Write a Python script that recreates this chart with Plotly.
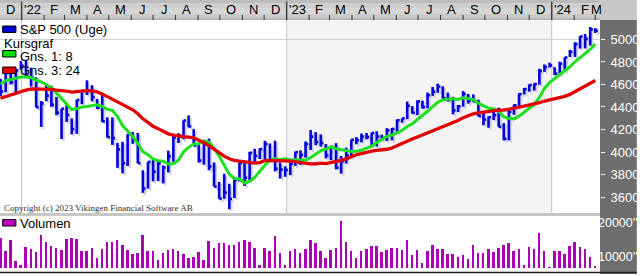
import plotly.graph_objects as go
import pandas as pd

# ---------------- data ----------------
week_end = pd.date_range("2021-12-03", periods=118, freq="W-FRI")

high = [4652, 4713, 4731, 4740, 4808, 4819, 4749, 4664, 4453, 4595,
        4589, 4490, 4385, 4416, 4299, 4465, 4546, 4637, 4593, 4471,
        4513, 4308, 4307, 4081, 4090, 4158, 4177, 4169, 3838, 3913,
        3946, 3918, 3880, 4012, 4140, 4167, 4281, 4325, 4203, 4062,
        4077, 4119, 3907, 3733, 3806, 3718, 3762, 3906, 3911, 4001,
        4028, 4034, 4100, 4076, 4101, 3906, 3873, 3906, 4003, 4015,
        4094, 4195, 4176, 4156, 4070, 4048, 4079, 3964, 4039, 4110,
        4133, 4164, 4169, 4170, 4184, 4154, 4212, 4213, 4290, 4299,
        4448, 4408, 4458, 4456, 4528, 4578, 4607, 4584, 4528, 4490,
        4418, 4541, 4515, 4511, 4464, 4358, 4317, 4385, 4393, 4256,
        4366, 4421, 4521, 4568, 4600, 4609, 4739, 4778, 4793, 4754,
        4802, 4842, 4907, 4975, 5030, 5048, 5111, 5100]
low = [4495, 4531, 4600, 4531, 4733, 4663, 4582, 4395, 4223, 4451,
       4401, 4327, 4115, 4267, 4157, 4161, 4424, 4506, 4450, 4381,
       4268, 4128, 4063, 3859, 3811, 3876, 4073, 3900, 3637, 3675,
       3739, 3742, 3721, 3818, 3913, 4080, 4113, 4219, 4057, 3906,
       3887, 3838, 3693, 3584, 3584, 3491, 3590, 3739, 3698, 3750,
       3907, 3938, 3938, 3918, 3828, 3764, 3780, 3795, 3877, 3885,
       3950, 4018, 4061, 4048, 3943, 3928, 3847, 3808, 3899, 3949,
       4069, 4086, 4113, 4049, 4049, 4098, 4099, 4104, 4166, 4261,
       4292, 4341, 4329, 4385, 4389, 4499, 4527, 4474, 4448, 4335,
       4356, 4403, 4430, 4447, 4316, 4238, 4216, 4284, 4223, 4104,
       4103, 4331, 4410, 4511, 4537, 4546, 4598, 4712, 4751, 4682,
       4682, 4714, 4844, 4845, 4919, 4920, 4946, 5058]
close = [4538, 4712, 4620, 4725, 4766, 4677, 4662, 4398, 4432, 4500,
         4419, 4349, 4385, 4329, 4204, 4463, 4543, 4546, 4488, 4393,
         4272, 4132, 4123, 4024, 3901, 4158, 4109, 3901, 3675, 3912,
         3825, 3899, 3863, 3962, 4130, 4145, 4280, 4228, 4058, 3924,
         4067, 3873, 3693, 3586, 3640, 3583, 3752, 3901, 3771, 3993,
         3965, 4026, 4072, 3934, 3852, 3845, 3840, 3895, 3999, 3973,
         4071, 4136, 4090, 4079, 3970, 4046, 3862, 3917, 3971, 4109,
         4105, 4138, 4133, 4169, 4136, 4124, 4192, 4205, 4282, 4299,
         4410, 4348, 4450, 4399, 4505, 4536, 4582, 4478, 4464, 4370,
         4406, 4516, 4457, 4450, 4320, 4288, 4309, 4327, 4224, 4117,
         4358, 4415, 4514, 4559, 4595, 4604, 4719, 4754, 4770, 4697,
         4784, 4840, 4891, 4959, 5026, 5005, 5089, 5078]
# closes of the 23 weeks before the first bar (needed for the averages)
history_close = [4281, 4352, 4370, 4327, 4412, 4395, 4437, 4468, 4442, 4509,
                 4535, 4459, 4433, 4455, 4357, 4391, 4471, 4545, 4605, 4697,
                 4683, 4698, 4595]
volume = [15430, 11680, 14930, 8730, 7550, 12960, 12270, 11390, 16400, 14340,
          13160, 12470, 11980, 15120, 15430, 15120, 11680, 11680, 12470, 9520,
          12170, 14240, 14240, 14930, 13450, 11980, 10700, 10990, 16400, 11680,
          11680, 9030, 10990, 11980, 12170, 11680, 10800, 9520, 9810, 11390,
          9030, 14630, 12470, 14140, 13940, 13450, 13450, 14440, 14930, 14240,
          12470, 7550, 12470, 11680, 16110, 11190, 7550, 11680, 12170, 10990,
          12270, 14930, 13940, 11680, 9520, 11980, 12470, 20530, 14340, 11680,
          9520, 11680, 12270, 13160, 13160, 11480, 11980, 12470, 12470, 11980,
          14930, 10500, 11980, 8240, 11680, 13450, 12270, 12270, 10800, 10800,
          10010, 10500, 9220, 13450, 10990, 11190, 12270, 11480, 12470, 13450,
          13940, 11680, 12170, 7550, 12960, 12270, 16990, 11680, 7060, 11680,
          11680, 10800, 13160, 14340, 12860, 12270, 10010, 7260]
price_ticks = [3600, 3800, 4000, 4200, 4400, 4600, 4800, 5000]
volume_ticks = [10000, 20000]
volume_tick_labels = ["10000''", "20000''"]
month_letters = ["J", "F", "M", "A", "M", "J", "J", "A", "S", "O", "N", "D"]

# ---------------- derived ----------------
all_close = history_close + close
def sma(n):
    s = len(history_close)
    return [sum(all_close[i - n + 1:i + 1]) / n for i in range(s, len(all_close))]
ma8 = sma(8)
ma24 = sma(24)

W, H = 640, 276
PLOT_R = 603
def py(y):
    return 1 - y / H
def px(x):
    return x / PLOT_R

FONT = "Liberation Sans Narrow, Arial Narrow, Liberation Sans, Arial, sans-serif"
DAY = pd.Timedelta(days=1)

def hlc_path(dx, dy):
    xs, ys = [], []
    for d, h, l, c in zip(week_end, high, low, close):
        d = d + dx
        xs += [d, d, None, d, d + 3.6 * DAY, None]
        ys += [l + dy, h + dy, None, c + dy, c + dy, None]
    return xs, ys

fig = go.Figure()
sx, sy = hlc_path(2.8 * DAY, -18)
fig.add_trace(go.Scatter(x=sx, y=sy, mode="lines", line=dict(color="#d2d2ec", width=2.5),
                         hoverinfo="skip", xaxis="x", yaxis="y"))
bx, by = hlc_path(0 * DAY, 0)
fig.add_trace(go.Scatter(x=bx, y=by, mode="lines", line=dict(color="#0000dc", width=2.6),
                         hoverinfo="skip", xaxis="x", yaxis="y"))
fig.add_trace(go.Scatter(x=week_end, y=ma8, mode="lines", line=dict(color="#1ee01e", width=3),
                         xaxis="x", yaxis="y"))
fig.add_trace(go.Scatter(x=week_end, y=ma24, mode="lines", line=dict(color="#e00000", width=3.3),
                         xaxis="x", yaxis="y"))
fig.add_trace(go.Bar(x=week_end, y=volume, marker=dict(color="#ac00b6", line=dict(width=0)),
                     width=2.7 * 86400000, xaxis="x2", yaxis="y2"))

x0 = pd.Timestamp("2021-12-02 06:00")
x1 = pd.Timestamp("2024-03-07 12:00")

shapes = []
# top bar gradient
grad = [(0, 3, "#bcbcbc"), (3, 8, "#cfcfcf"), (8, 14, "#d6d6d6"), (14, 18, "#cacaca"), (18, 20, "#b8b8b8")]
for a, b, col in grad:
    shapes.append(dict(type="rect", xref="paper", yref="paper", x0=0, x1=1, y0=py(b), y1=py(a),
                       fillcolor=col, line=dict(width=0), layer="below"))
shapes.append(dict(type="rect", xref="paper", yref="paper", x0=1, x1=W / PLOT_R, y0=py(20), y1=1,
                   fillcolor="#c8c8c8", line=dict(width=0), layer="below"))
# right dark panel
shapes.append(dict(type="rect", xref="paper", yref="paper", x0=1, x1=W / PLOT_R, y0=py(274), y1=py(20),
                   fillcolor="#6e6e6e", line=dict(width=0), layer="below"))
# 2023 light band
shapes.append(dict(type="rect", xref="x", yref="paper", x0="2023-01-01", x1="2024-01-01",
                   y0=py(213), y1=py(20), fillcolor="#f4f4f4", line=dict(width=0), layer="below"))
# separator and bottom line
shapes.append(dict(type="rect", xref="paper", yref="paper", x0=0, x1=1, y0=py(216), y1=py(213),
                   fillcolor="#c6c6c6", line=dict(width=0), layer="below"))
shapes.append(dict(type="line", xref="paper", yref="paper", x0=0, x1=W / PLOT_R, y0=py(272.5), y1=py(272.5),
                   line=dict(color="#202020", width=1.5)))
# 5000 grid line
shapes.append(dict(type="line", xref="paper", yref="y", x0=0, x1=1, y0=5000, y1=5000,
                   line=dict(color="#d0d0d0", width=1), layer="below"))

annotations = []
# month ticks / labels
m = pd.Timestamp("2021-12-01")
while m < x1:
    nxt = m + pd.offsets.MonthBegin(1)
    if m > x0:
        if m.month == 1:
            shapes.append(dict(type="line", xref="x", yref="paper", x0=m, x1=m, y0=py(20), y1=py(1.5),
                               line=dict(color="#404040", width=1.5)))
            shapes.append(dict(type="line", xref="x", yref="paper", x0=m, x1=m, y0=py(213), y1=py(20),
                               line=dict(color="#c4c4c4", width=1), layer="below"))
        else:
            shapes.append(dict(type="line", xref="x", yref="paper", x0=m, x1=m, y0=py(20), y1=py(15),
                               line=dict(color="#303030", width=1)))
    a = max(m, x0)
    b = min(nxt, x1 - 4 * DAY)
    center = a + (b - a) / 2
    lab = ("'" + str(m.year)[2:]) if m.month == 1 else month_letters[m.month - 1]
    annotations.append(dict(x=center, y=py(9.5), xref="x", yref="paper", text=lab, showarrow=False,
                            xanchor="center", yanchor="middle", font=dict(family=FONT, size=13, color="#000000")))
    m = nxt

# legends
def swatch(y0, y1, col):
    shapes.append(dict(type="rect", xref="paper", yref="paper", x0=px(2.7), x1=px(16), y0=py(y1), y1=py(y0),
                       fillcolor=col, line=dict(color="#000000", width=1)))
def label(x, y, t, size=13):
    annotations.append(dict(x=px(x), y=py(y), xref="paper", yref="paper", text=t, showarrow=False,
                            xanchor="left", yanchor="middle", font=dict(family=FONT, size=size, color="#000000")))
swatch(26, 32.5, "#0000d0"); label(18.5, 29, "S&amp;P 500 (Uge)")
label(2.5, 43.5, "Kursgraf")
swatch(50.5, 57, "#00e000"); label(18.5, 56, "Gns. 1: 8")
swatch(67, 73.5, "#e00000"); label(18.5, 70.5, "Gns. 3: 24")
swatch(219.5, 226, "#c000c0"); label(18.5, 223, "Volumen")

annotations.append(dict(x=px(2), y=py(207.7), xref="paper", yref="paper",
                        text="Copyright (c) 2023 Vikingen Financial Software AB", showarrow=False,
                        xanchor="left", yanchor="middle",
                        font=dict(family="Liberation Serif, Times New Roman, serif", size=9, color="#303030")))
for v, t in zip(volume_ticks, volume_tick_labels):
    annotations.append(dict(x=1, y=v, xref="paper", yref="y2", text=t, showarrow=False, xanchor="left",
                            yanchor="middle", xshift=-4, font=dict(family=FONT, size=12.5, color="#ffffff")))

fig.update_layout(
    width=W, height=H, margin=dict(l=0, r=W - PLOT_R, t=0, b=0),
    paper_bgcolor="#ffffff", plot_bgcolor="rgba(0,0,0,0)", showlegend=False, bargap=0,
    xaxis=dict(type="date", range=[x0, x1], domain=[0, 1], anchor="y", showgrid=False,
               showticklabels=False, zeroline=False, showline=False, ticks=""),
    xaxis2=dict(type="date", range=[x0, x1], domain=[0, 1], anchor="y2", matches="x", showgrid=False,
                showticklabels=False, zeroline=False, showline=False, ticks=""),
    yaxis=dict(domain=[py(213), py(20)], range=[3458, 5173], side="right", tickvals=price_ticks,
               ticks="outside", ticklen=4, tickcolor="#ffffff", tickwidth=1, showgrid=False,
               zeroline=False, showline=False, ticklabelstandoff=3,
               tickfont=dict(family=FONT, size=13, color="#ffffff")),
    yaxis2=dict(domain=[py(268), py(216)], range=[6667, 22007], side="right", showticklabels=False,
                ticks="", showgrid=False, zeroline=False, showline=False),
    shapes=shapes, annotations=annotations,
)
fig.write_html("out.html")
